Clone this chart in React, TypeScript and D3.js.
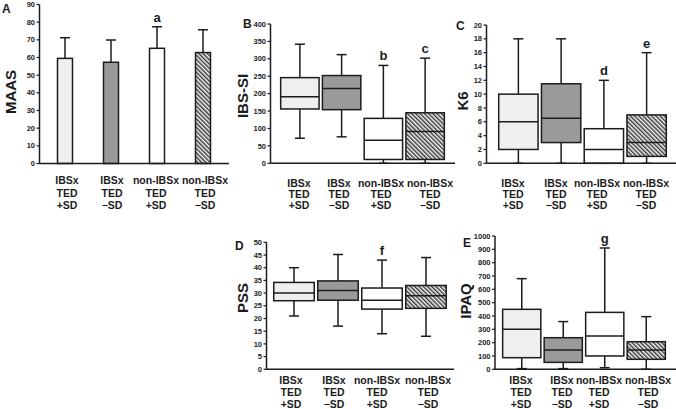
import React from "react";
import * as d3 from "d3";

// ---------- data ----------
const categories: string[][] = [
  ["IBSx", "TED", "+SD"],
  ["IBSx", "TED", "\u2212SD"],
  ["non-IBSx", "TED", "+SD"],
  ["non-IBSx", "TED", "\u2212SD"],
];

// Panel A: MAAS means with SD
const maasMean = [59.5, 57.3, 65.2, 62.8];
const maasTop = [71.2, 69.9, 77.4, 75.7];

// Panel B: IBS-SI box stats
const ibssiMin = [72, 76, 0, 0];
const ibssiQ1 = [156, 154, 11, 11];
const ibssiMed = [191, 215, 66, 91];
const ibssiQ3 = [246, 252, 129, 145];
const ibssiMax = [342, 312, 281, 302];

// Panel C: K6
const k6Min = [0, 0, 0, 0];
const k6Q1 = [2, 3, 0, 1];
const k6Med = [6, 6.5, 2, 3];
const k6Q3 = [10, 11.5, 5, 7];
const k6Max = [18, 18, 12, 16];

// Panel D: PSS
const pssMin = [21, 17, 14, 13];
const pssQ1 = [27, 27.2, 23.7, 24];
const pssMed = [30, 31, 27.2, 29];
const pssQ3 = [34.2, 34.8, 32, 33];
const pssMax = [40, 45.2, 43, 44];

// Panel E: IPAQ
const ipaqMin = [5, 5, 12, 0];
const ipaqQ1 = [87, 52, 100, 75];
const ipaqMed = [300, 145, 250, 145];
const ipaqQ3 = [450, 237, 427, 207];
const ipaqMax = [680, 358, 910, 395];

const sigLabels = {
  A: ["", "", "a", ""],
  B: ["", "", "b", "c"],
  C: ["", "", "d", "e"],
  D: ["", "", "f", ""],
  E: ["", "", "g", ""],
};

// ---------- layout ----------
const FONT = "'Liberation Sans', Arial, sans-serif";
const INK = "#1c1c1c";
const fills = ["#efefef", "#9a9a9a", "#ffffff", "url(#hatch)"];

type Panel = {
  id: string;
  yLabel: string;
  kind: "bar" | "box";
  domain: [number, number];
  step: number;
  axisX: number;
  yTop: number;
  yBottom: number;
  xRange: [number, number];
  xEnd: number;
  letter: [number, number];
  yLabelPos: [number, number];
  catBase: number[];
  catX: number[];
  sig: string[];
  stats?: number[][];
};

const panels: Panel[] = [
  {
    id: "A", yLabel: "MAAS", kind: "bar", domain: [0, 90], step: 10,
    axisX: 39.5, yTop: 4.5, yBottom: 163.5, xRange: [42, 226], xEnd: 229,
    letter: [2, 13], yLabelPos: [16, 92], catBase: [184, 196.5, 208.5],
    catX: [67, 112, 156, 205], sig: sigLabels.A,
  },
  {
    id: "B", yLabel: "IBS-SI", kind: "box", domain: [0, 400], step: 50,
    axisX: 270.5, yTop: 24, yBottom: 163.3, xRange: [279, 446], xEnd: 455,
    letter: [243, 28], yLabelPos: [248, 96], catBase: [186.5, 197.5, 208.5],
    catX: [299, 339, 381, 430], sig: sigLabels.B,
    stats: [ibssiMin, ibssiQ1, ibssiMed, ibssiQ3, ibssiMax],
  },
  {
    id: "C", yLabel: "K6", kind: "box", domain: [0, 20], step: 2,
    axisX: 486.5, yTop: 25, yBottom: 163.3, xRange: [497, 668], xEnd: 676,
    letter: [456, 30], yLabelPos: [468, 101], catBase: [186.5, 197.5, 208.5],
    catX: [513, 556, 597, 646], sig: sigLabels.C,
    stats: [k6Min, k6Q1, k6Med, k6Q3, k6Max],
  },
  {
    id: "D", yLabel: "PSS", kind: "box", domain: [0, 50], step: 5,
    axisX: 266.5, yTop: 242.3, yBottom: 369.3, xRange: [272, 448], xEnd: 454,
    letter: [235, 250], yLabelPos: [248, 298], catBase: [384, 396, 408],
    catX: [291, 334, 377, 428], sig: sigLabels.D,
    stats: [pssMin, pssQ1, pssMed, pssQ3, pssMax],
  },
  {
    id: "E", yLabel: "IPAQ", kind: "box", domain: [0, 1000], step: 100,
    axisX: 495, yTop: 236, yBottom: 369.3, xRange: [501, 667], xEnd: 676,
    letter: [463, 247], yLabelPos: [471, 301], catBase: [384, 396, 408],
    catX: [521, 562, 599, 648], sig: sigLabels.E,
    stats: [ipaqMin, ipaqQ1, ipaqMed, ipaqQ3, ipaqMax],
  },
];

function PanelView({ p }: { p: Panel }) {
  const y = d3.scaleLinear().domain(p.domain).range([p.yBottom, p.yTop]);
  const x = d3
    .scaleBand<number>()
    .domain([0, 1, 2, 3])
    .range(p.xRange)
    .paddingInner(0.08)
    .paddingOuter(0.04);
  const ticks = d3.range(p.domain[0], p.domain[1] + p.step / 2, p.step);
  const bw = x.bandwidth();

  return (
    <g>
      {/* y axis */}
      <line x1={p.axisX} x2={p.axisX} y1={y(p.domain[1])} y2={y(0)} stroke={INK} strokeWidth={1.5} />
      {ticks.map((t) => (
        <g key={t}>
          <line x1={p.axisX - 3} x2={p.axisX} y1={y(t)} y2={y(t)} stroke={INK} strokeWidth={1.2} />
          <text
            x={p.axisX - 4.5}
            y={y(t)}
            dy="0.35em"
            textAnchor="end"
            fontSize={7.5}
            fontWeight="bold"
            fontFamily={FONT}
            fill={INK}
          >
            {t}
          </text>
        </g>
      ))}

      {/* marks */}
      {p.kind === "bar"
        ? maasMean.map((v, i) => {
            const cx = (x(i) as number) + bw / 2;
            const w = 15;
            return (
              <g key={i}>
                <line x1={cx} x2={cx} y1={y(v)} y2={y(maasTop[i])} stroke={INK} strokeWidth={1.5} />
                <line x1={cx - 5} x2={cx + 5} y1={y(maasTop[i])} y2={y(maasTop[i])} stroke={INK} strokeWidth={1.5} />
                <rect
                  x={cx - w / 2}
                  y={y(v)}
                  width={w}
                  height={y(0) - y(v)}
                  fill={fills[i]}
                  stroke={INK}
                  strokeWidth={1.5}
                />
                {p.sig[i] && (
                  <text x={cx} y={y(maasTop[i]) - 5} textAnchor="middle" fontSize={13} fontWeight="bold" fontFamily={FONT} fill={INK}>
                    {p.sig[i]}
                  </text>
                )}
              </g>
            );
          })
        : p.stats![0].map((_, i) => {
            const [mn, q1, md, q3, mx] = p.stats!.map((a) => a[i]);
            const x0 = x(i) as number;
            const cx = x0 + bw / 2;
            return (
              <g key={i}>
                <line x1={cx} x2={cx} y1={y(mx)} y2={y(mn)} stroke={INK} strokeWidth={1.5} />
                <line x1={cx - 5} x2={cx + 5} y1={y(mx)} y2={y(mx)} stroke={INK} strokeWidth={1.5} />
                <line x1={cx - 5} x2={cx + 5} y1={y(mn)} y2={y(mn)} stroke={INK} strokeWidth={1.5} />
                <rect
                  x={x0}
                  y={y(q3)}
                  width={bw}
                  height={y(q1) - y(q3)}
                  fill={fills[i]}
                  stroke={INK}
                  strokeWidth={1.5}
                />
                <line x1={x0} x2={x0 + bw} y1={y(md)} y2={y(md)} stroke={INK} strokeWidth={1.5} />
                {p.sig[i] && (
                  <text x={cx} y={y(mx) - 5} textAnchor="middle" fontSize={13} fontWeight="bold" fontFamily={FONT} fill={INK}>
                    {p.sig[i]}
                  </text>
                )}
              </g>
            );
          })}

      {/* x axis */}
      <line x1={p.axisX} x2={p.xEnd} y1={y(0)} y2={y(0)} stroke={INK} strokeWidth={1.5} />

      {/* category labels */}
      {categories.map((lines, i) =>
        lines.map((s, j) => (
          <text
            key={i + "-" + j}
            x={p.catX[i]}
            y={p.catBase[j]}
            textAnchor="middle"
            fontSize={10.5}
            fontWeight="bold"
            fontFamily={FONT}
            fill={INK}
          >
            {s}
          </text>
        ))
      )}

      {/* panel letter */}
      <text x={p.letter[0]} y={p.letter[1]} fontSize={12} fontWeight="bold" fontFamily={FONT} fill={INK}>
        {p.id}
      </text>

      {/* y label */}
      <text
        transform={`translate(${p.yLabelPos[0]},${p.yLabelPos[1]}) rotate(-90)`}
        textAnchor="middle"
        fontSize={15}
        fontWeight="bold"
        fontFamily={FONT}
        fill={INK}
      >
        {p.yLabel}
      </text>
    </g>
  );
}

export default function App() {
  return (
    <svg
      width={676}
      height={409}
      style={{ position: "absolute", left: 0, top: 0, background: "#fff" }}
    >
      <defs>
        <pattern id="hatch" width={3} height={3} patternUnits="userSpaceOnUse" patternTransform="rotate(-45)">
          <rect width={3} height={3} fill="#f6f6f6" />
          <line x1={0.75} y1={0} x2={0.75} y2={3} stroke="#3c3c3c" strokeWidth={1.5} />
        </pattern>
      </defs>
      <rect width={676} height={409} fill="#fff" />
      {panels.map((p) => (
        <PanelView key={p.id} p={p} />
      ))}
    </svg>
  );
}
